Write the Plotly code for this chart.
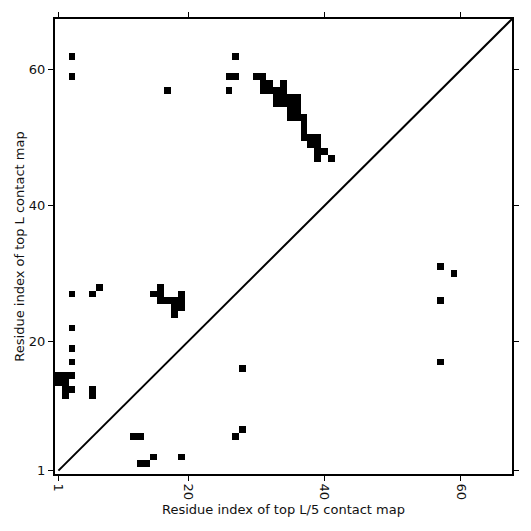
import numpy as np
import plotly.graph_objects as go

L = 67
tick_vals = [1, 20, 40, 60]

# top L contacts (i, j) plotted above the diagonal
topL_i = [3, 3, 27, 26, 27, 17, 26,
          30, 31,
          31, 32, 34,
          31, 32, 33, 34,
          33, 34, 35, 36,
          33, 34, 35, 36,
          35, 36,
          35, 36, 37,
          37,
          37,
          37, 38, 39,
          38, 39,
          39, 40,
          39, 41,
          3, 6, 7, 3, 3, 3,
          1, 2, 3, 1, 2, 2, 3, 2, 6, 6,
          16, 15, 16, 19, 16, 17, 18, 19, 18, 19, 18]
topL_j = [62, 59, 62, 59, 59, 57, 57,
          59, 59,
          58, 58, 58,
          57, 57, 57, 57,
          56, 56, 56, 56,
          55, 55, 55, 55,
          54, 54,
          53, 53, 53,
          52,
          51,
          50, 50, 50,
          49, 49,
          48, 48,
          47, 47,
          27, 27, 28, 22, 19, 17,
          15, 15, 15, 14, 14, 13, 13, 12, 13, 12,
          28, 27, 27, 27, 26, 26, 26, 26, 25, 25, 24]

# top L/5 contacts plotted below the diagonal
topL5_x = [57, 59, 57, 57, 28, 28, 27, 12, 13, 15, 19, 13, 14]
topL5_y = [31, 30, 26, 17, 16, 7, 6, 6, 6, 3, 3, 2, 2]


def contact_matrix(xs, ys):
    z = np.full((L, L), np.nan)
    for a, b in zip(xs, ys):
        z[b - 1, a - 1] = 1.0
    return z


idx = list(range(1, L + 1))
black = [[0, "black"], [1, "black"]]

fig = go.Figure()
fig.add_trace(go.Heatmap(x=idx, y=idx, z=contact_matrix(topL_i, topL_j),
                         colorscale=black, showscale=False, zmin=0, zmax=1,
                         hoverongaps=False, name="top L"))
fig.add_trace(go.Heatmap(x=idx, y=idx, z=contact_matrix(topL5_x, topL5_y),
                         colorscale=black, showscale=False, zmin=0, zmax=1,
                         hoverongaps=False, name="top L/5"))
fig.add_trace(go.Scatter(x=[1, L + 0.5], y=[1, L + 0.5], mode="lines",
                         line=dict(color="black", width=2), showlegend=False,
                         hoverinfo="skip"))

axis_common = dict(
    range=[0.5, L + 0.5], tickvals=tick_vals, ticks="outside", ticklen=5,
    tickwidth=1, tickcolor="black", showline=True, linewidth=2,
    linecolor="black", mirror="ticks", showgrid=False, zeroline=False,
    tickfont=dict(family="DejaVu Sans", size=13, color="#111"),
)

fig.update_layout(
    width=531, height=531,
    margin=dict(l=55, r=14, t=14, b=57),
    plot_bgcolor="white", paper_bgcolor="white",
    showlegend=False,
    font=dict(family="DejaVu Sans", size=13, color="#111"),
    xaxis=dict(**axis_common, tickangle=90,
               title=dict(text="Residue index of top L/5 contact map",
                          standoff=6, font=dict(size=13))),
    yaxis=dict(**axis_common,
               title=dict(text="Residue index of top L contact map",
                          standoff=1, font=dict(size=13))),
)

fig.write_html("out.html",
               config={"displayModeBar": False},
               post_script="document.body.style.margin='0';"
                           "document.body.style.overflow='hidden';")
